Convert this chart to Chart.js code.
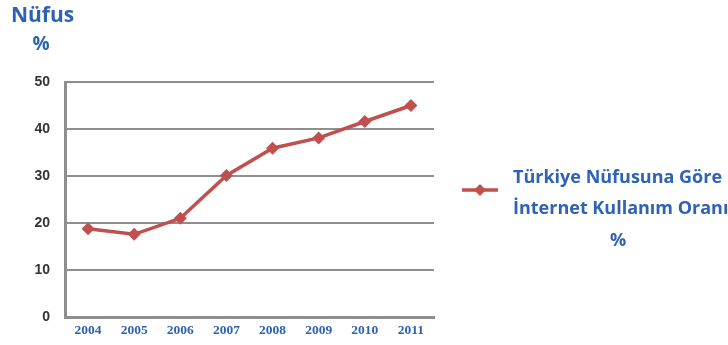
<!DOCTYPE html>
<html>
<head>
<meta charset="utf-8">
<script src="https://cdn.jsdelivr.net/npm/chart.js@4/dist/chart.umd.min.js"></script>
<style>
  html, body { margin: 0; padding: 0; background: #fff; }
  #wrap { position: relative; width: 728px; height: 345px; }
</style>
</head>
<body>
<div id="wrap"><canvas id="c" width="728" height="345"></canvas></div>
<script>
// Years on the horizontal axis
const years = ['2004', '2005', '2006', '2007', '2008', '2009', '2010', '2011'];
// Share of population using the internet (%)
const usage = [18.8, 17.6, 21.0, 30.1, 35.9, 38.1, 41.6, 45.0];
// Value axis ticks
const yTicks = [0, 10, 20, 30, 40, 50];

const axisTitle = ['Nüfus', '%'];
const seriesName = ['Türkiye Nüfusuna Göre', 'İnternet Kullanım Oranı', '%'];

const RED = '#c0504d';
const BLUE = '#2e62b4';
const GRID = '#8e8e8e';

// Axis caption and wrapped series legend, drawn on the canvas
const annotations = {
  id: 'annotations',
  afterDraw(chart) {
    const ctx = chart.ctx;
    ctx.save();
    ctx.fillStyle = BLUE;
    ctx.textBaseline = 'middle';
    ctx.font = 'bold 21px "Open Sans", sans-serif';
    ctx.textAlign = 'left';
    ctx.fillText(axisTitle[0], 11, 16);
    ctx.font = 'bold 19px "Open Sans", sans-serif';
    ctx.textAlign = 'center';
    ctx.fillText(axisTitle[1], 41, 45);

    // legend sample: line with diamond marker
    ctx.strokeStyle = RED;
    ctx.lineWidth = 3.5;
    ctx.beginPath();
    ctx.moveTo(462, 190);
    ctx.lineTo(498, 190);
    ctx.stroke();
    ctx.fillStyle = RED;
    ctx.beginPath();
    ctx.moveTo(480, 184); ctx.lineTo(486, 190); ctx.lineTo(480, 196); ctx.lineTo(474, 190);
    ctx.closePath();
    ctx.fill();

    ctx.fillStyle = BLUE;
    ctx.font = 'bold 18px "Open Sans", sans-serif';
    ctx.textAlign = 'left';
    ctx.fillText(seriesName[0], 513, 178);
    ctx.fillText(seriesName[1], 513, 209);
    ctx.textAlign = 'center';
    ctx.fillText(seriesName[2], 618, 241);
    ctx.restore();
  }
};

new Chart(document.getElementById('c'), {
  type: 'line',
  data: {
    labels: years,
    datasets: [{
      label: seriesName.join(' '),
      data: usage,
      borderColor: RED,
      backgroundColor: RED,
      borderWidth: 3.5,
      pointStyle: 'rectRot',
      pointRadius: 6.5,
      pointBorderWidth: 0,
      tension: 0
    }]
  },
  options: {
    responsive: false,
    animation: false,
    layout: { padding: { left: 0, top: 82, right: 294, bottom: 0 } },
    plugins: { legend: { display: false }, tooltip: { enabled: false } },
    scales: {
      x: {
        offset: true,
        grid: { display: false, drawTicks: false },
        border: { display: true, color: GRID, width: 3 },
        ticks: {
          color: BLUE,
          padding: 5,
          maxRotation: 0,
          font: { family: '"Liberation Serif", serif', size: 13.5, weight: 'bold' }
        },
        afterFit(scale) { scale.height = 28; }
      },
      y: {
        min: yTicks[0],
        max: yTicks[yTicks.length - 1],
        afterBuildTicks(scale) { scale.ticks = yTicks.map(v => ({ value: v })); },
        grid: { color: GRID, lineWidth: 2, drawTicks: false },
        border: { display: true, color: GRID, width: 3 },
        ticks: {
          color: '#333333',
          padding: 15,
          font: { family: '"Liberation Sans", sans-serif', size: 14, weight: 'bold' }
        },
        afterFit(scale) { scale.width = 65; }
      }
    }
  },
  plugins: [annotations]
});
</script>
</body>
</html>
